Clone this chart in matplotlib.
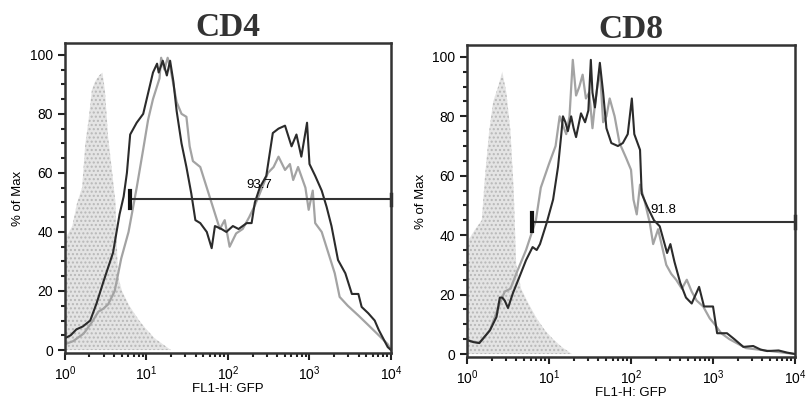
import numpy as np
import matplotlib.pyplot as plt
from matplotlib.ticker import MultipleLocator, LogLocator, NullFormatter

plt.rcParams['font.family'] = ['Liberation Sans', 'DejaVu Sans']
plt.rcParams['mathtext.default'] = 'regular'

# --- DATA: positions are log10(FL1-H), values are % of Max ---
cd4_shade_log = [0.00, 0.01, 0.09, 0.15, 0.21, 0.25, 0.29, 0.33, 0.37, 0.42, 0.46, 0.49, 0.53,
                 0.58, 0.62, 0.65, 0.70, 0.79, 0.91, 1.00, 1.10, 1.20, 1.30]
cd4_shade_val = [0, 38, 42, 50, 55, 70, 78, 88, 91, 93, 94, 88, 72,
                 60, 50, 25, 20, 15, 10, 7, 4, 2, 0]

cd4_light_log = [0.00, 0.10, 0.23, 0.32, 0.41, 0.47, 0.53, 0.61, 0.69, 0.78, 0.88, 0.96, 1.02,
                 1.08, 1.16, 1.18, 1.22, 1.26, 1.29, 1.33, 1.37, 1.43, 1.49, 1.53, 1.57, 1.66,
                 1.74, 1.82, 1.90, 1.96, 2.02, 2.10, 2.18, 2.26, 2.33, 2.39, 2.49, 2.56, 2.62,
                 2.70, 2.76, 2.80, 2.86, 2.95, 2.99, 3.04, 3.07, 3.15, 3.23, 3.31, 3.37, 3.47,
                 3.60, 3.72, 3.85, 3.96, 4.00]
cd4_light_val = [2, 3, 5.6, 9, 13, 14, 15.5, 20, 31, 40, 55, 68, 78,
                 85, 92, 99, 95, 99, 96, 90, 84, 80, 79, 69, 64, 62,
                 55, 48, 41, 44, 35, 39.5, 41, 45, 49, 53, 60, 62, 65.5,
                 61, 63, 57.6, 62, 55, 47.5, 54, 43, 40, 33, 26, 18, 15,
                 11.7, 8.5, 5, 2, 0]

cd4_dark_log = [0.00, 0.07, 0.14, 0.22, 0.31, 0.39, 0.47, 0.53, 0.59, 0.67, 0.72, 0.76, 0.80,
                0.84, 0.88, 0.96, 1.02, 1.08, 1.13, 1.15, 1.20, 1.25, 1.29, 1.33, 1.37, 1.43,
                1.49, 1.55, 1.60, 1.66, 1.74, 1.80, 1.84, 1.92, 1.98, 2.06, 2.13, 2.23, 2.29,
                2.33, 2.39, 2.47, 2.55, 2.62, 2.70, 2.78, 2.84, 2.90, 2.97, 3.00, 3.07, 3.15,
                3.21, 3.27, 3.35, 3.44, 3.52, 3.60, 3.64, 3.72, 3.80, 3.85, 3.96, 4.00]
cd4_dark_val = [4, 5, 7, 8, 10, 16, 23, 28, 33, 46, 52, 60, 73,
                75, 77, 80, 87, 94, 97, 94, 98, 93, 98, 91, 81, 70,
                62, 53, 44, 43, 40, 34.5, 42, 41, 40, 42, 41, 43, 43,
                50, 55, 59, 73.5, 75, 76, 69, 73, 65.5, 77, 63, 59, 54,
                48.5, 42, 30.5, 26, 19, 19, 14.6, 12.5, 10, 6.8, 1, 0]

cd8_shade_log = [0.00, 0.01, 0.10, 0.18, 0.22, 0.27, 0.32, 0.38, 0.43, 0.48, 0.53, 0.57, 0.60,
                 0.66, 0.75, 0.85, 0.95, 1.05, 1.15, 1.28]
cd8_shade_val = [0, 38, 42, 45, 60, 75, 85, 90, 95, 88, 75, 55, 30,
                 22, 17, 12, 8, 5, 2.5, 0]

cd8_light_log = [0.00, 0.15, 0.28, 0.40, 0.46, 0.53, 0.60, 0.72, 0.84, 0.90, 1.00, 1.08, 1.13,
                 1.17, 1.21, 1.25, 1.29, 1.33, 1.37, 1.41, 1.45, 1.49, 1.53, 1.56, 1.62, 1.66,
                 1.70, 1.74, 1.80, 1.86, 1.94, 2.00, 2.03, 2.07, 2.11, 2.17, 2.23, 2.27, 2.33,
                 2.43, 2.49, 2.55, 2.62, 2.68, 2.74, 2.80, 2.88, 2.96, 3.02, 3.10, 3.20, 3.30,
                 3.40, 3.55, 3.70, 4.00]
cd8_light_val = [4.7, 3.7, 8, 17, 21, 22, 27, 35, 45, 56, 64, 70, 80,
                 77, 74, 80, 99, 87, 90, 94, 86, 88, 76, 84, 96, 78,
                 80, 86, 80, 71, 66, 62, 52, 47, 57, 51, 44, 37, 42,
                 30, 27, 25, 22, 25, 21, 18, 16, 12, 10, 7, 5, 3.5,
                 2, 1.5, 1, 0]

cd8_dark_log = [0.00, 0.08, 0.15, 0.22, 0.28, 0.36, 0.40, 0.43, 0.46, 0.50, 0.56, 0.64, 0.72,
                0.80, 0.85, 0.89, 0.97, 1.05, 1.11, 1.15, 1.17, 1.20, 1.23, 1.27, 1.30, 1.33,
                1.39, 1.44, 1.48, 1.51, 1.53, 1.56, 1.62, 1.66, 1.70, 1.76, 1.84, 1.90, 1.96,
                2.01, 2.04, 2.11, 2.13, 2.20, 2.28, 2.35, 2.44, 2.48, 2.53, 2.60, 2.67, 2.74,
                2.83, 2.89, 2.95, 3.00, 3.05, 3.17, 3.26, 3.37, 3.49, 3.58, 3.66, 3.80, 3.90,
                4.00]
cd8_dark_val = [4.7, 4, 3.7, 6, 8, 12.5, 19, 19, 18, 15.5, 20.5, 26, 31.6,
                36, 35, 37, 44, 52, 63, 74, 80, 78, 75, 80, 76, 73,
                81, 78, 82, 99, 88, 83, 98, 88, 76, 71, 70, 71, 74,
                86, 74, 68.7, 54, 49.5, 45, 43, 34, 37, 31, 24, 19, 17,
                22.6, 16, 16, 16, 7, 7, 5, 2.4, 2.7, 1.5, 1, 1.2, 0.5,
                0]

# gate: start position (log10), height, label
cd4_gate = (0.80, 51, '93.7', 56)
cd8_gate = (0.79, 44.5, '91.8', 48.5)
label_log = 2.23

y_ticks = [0, 20, 40, 60, 80, 100]


def draw_panel(ax, title, shade, light, dark, gate):
    sx = np.power(10.0, shade[0])
    ax.fill_between(sx, 0, shade[1], facecolor='#e4e4e4', edgecolor='#b8b8b8',
                    hatch='....', linewidth=0)
    ax.plot(np.power(10.0, light[0]), light[1], color='#a3a3a3', lw=1.6)
    ax.plot(np.power(10.0, dark[0]), dark[1], color='#2b2b2b', lw=1.5)

    # gate bar
    g_lo, g_y, g_lab, g_lab_y = gate
    ax.plot([10 ** g_lo, 1e4], [g_y, g_y], color='#333333', lw=1.5, clip_on=False)
    ax.plot([10 ** g_lo, 10 ** g_lo], [g_y - 3, g_y + 3], color='#111111', lw=3)
    ax.plot([1e4, 1e4], [g_y - 2, g_y + 2], color='#333333', lw=2.5, clip_on=False)
    ax.text(10 ** label_log, g_lab_y, g_lab, fontsize=9.5, va='center', ha='left')

    ax.set_xscale('log')
    ax.set_xlim(1, 1e4)
    ax.set_ylim(-1, 104)
    ax.set_yticks(y_ticks)
    ax.yaxis.set_minor_locator(MultipleLocator(5))
    ax.xaxis.set_major_locator(LogLocator(base=10, numticks=6))
    ax.xaxis.set_minor_locator(LogLocator(base=10, subs=np.arange(2, 10), numticks=20))
    ax.xaxis.set_minor_formatter(NullFormatter())
    ax.tick_params(which='major', direction='out', length=5, width=1.5, labelsize=10, color='#222')
    ax.tick_params(which='minor', direction='out', length=3, width=1.5, color='#222')
    ax.tick_params(axis='x', which='major', pad=3)
    for s in ax.spines.values():
        s.set_linewidth(1.8)
        s.set_color('#333333')
    ax.set_xlabel('FL1-H: GFP', fontsize=9.5, labelpad=0)
    ax.set_ylabel('% of Max', fontsize=9.5, labelpad=4)
    ax.set_title(title, fontsize=24, fontweight='bold', family='Liberation Serif',
                 color='#333333', pad=4)


fig = plt.figure(figsize=(8.06, 4.0), dpi=100)
ax1 = fig.add_axes([0.0806, 0.1175, 0.4045, 0.775])
ax2 = fig.add_axes([0.5794, 0.1075, 0.407, 0.78])

draw_panel(ax1, 'CD4', (cd4_shade_log, cd4_shade_val), (cd4_light_log, cd4_light_val),
           (cd4_dark_log, cd4_dark_val), cd4_gate)
draw_panel(ax2, 'CD8', (cd8_shade_log, cd8_shade_val), (cd8_light_log, cd8_light_val),
           (cd8_dark_log, cd8_dark_val), cd8_gate)

fig.savefig('out.png', dpi=100)
